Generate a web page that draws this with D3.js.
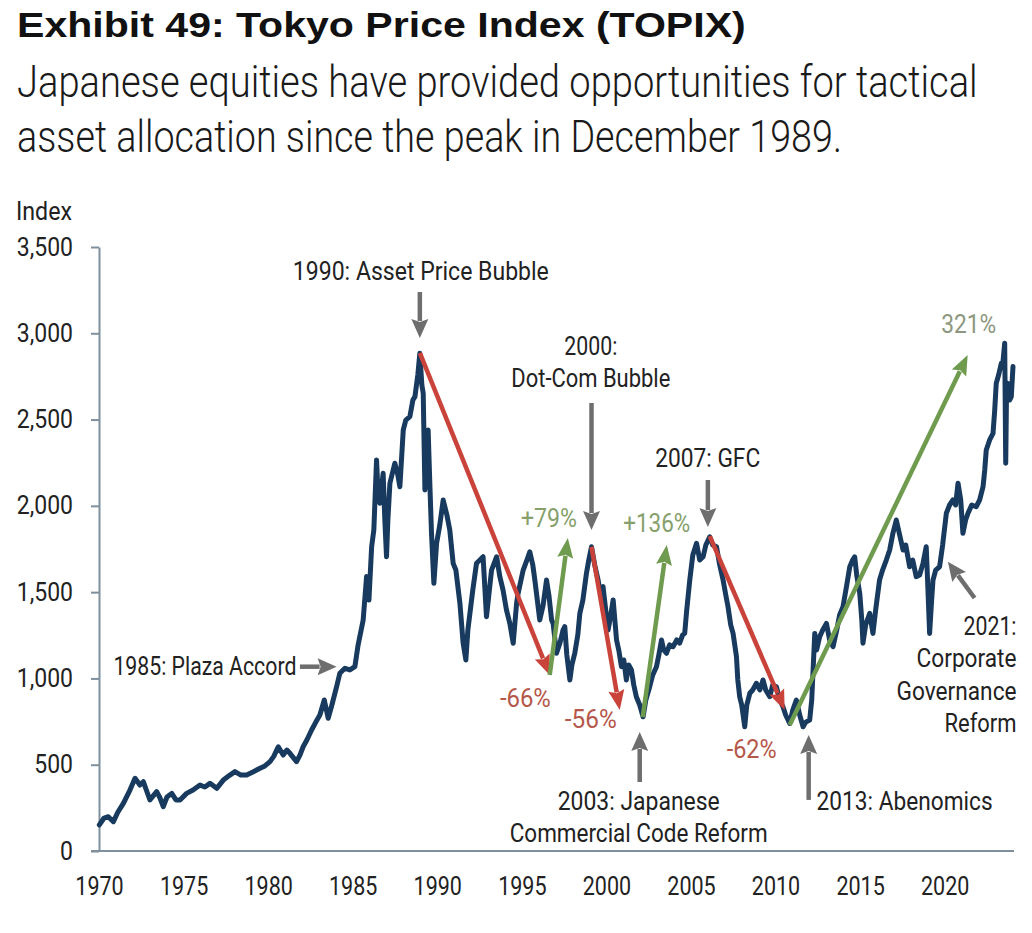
<!DOCTYPE html>
<html><head><meta charset="utf-8">
<script src="https://cdn.jsdelivr.net/npm/d3@7"></script>
<style>body{margin:0;background:#fff}svg{display:block}</style>
</head><body>
<svg id="c" width="1032" height="933"></svg>
<script>
// ---- data ----
const dates = [1970.02,1970.30,1970.55,1970.85,1971.12,1971.44,1971.83,1972.13,1972.42,1972.62,1972.84,1973.01,1973.41,1973.61,1973.80,1974.02,1974.30,1974.55,1974.79,1975.18,1975.56,1975.97,1976.26,1976.56,1976.96,1977.35,1977.74,1978.04,1978.39,1978.73,1979.10,1979.52,1979.81,1980.11,1980.34,1980.60,1980.89,1981.11,1981.29,1981.68,1981.88,1982.07,1982.29,1982.57,1982.82,1983.06,1983.32,1983.55,1983.77,1984.05,1984.24,1984.54,1984.83,1985.13,1985.32,1985.62,1985.82,1985.96,1986.12,1986.25,1986.41,1986.49,1986.61,1986.80,1986.90,1987.00,1987.08,1987.20,1987.49,1987.67,1987.79,1987.99,1988.14,1988.38,1988.56,1988.68,1988.85,1988.97,1989.09,1989.17,1989.27,1989.46,1989.56,1989.66,1989.80,1989.96,1990.15,1990.35,1990.57,1990.74,1990.94,1991.10,1991.34,1991.53,1991.69,1991.81,1991.93,1992.10,1992.32,1992.52,1992.71,1992.91,1993.21,1993.51,1993.70,1993.89,1994.09,1994.29,1994.49,1994.69,1994.78,1995.08,1995.30,1995.47,1995.65,1995.77,1996.06,1996.26,1996.46,1996.60,1996.76,1996.85,1997.05,1997.25,1997.44,1997.54,1997.66,1997.84,1997.96,1998.13,1998.31,1998.43,1998.61,1998.82,1998.96,1999.12,1999.31,1999.51,1999.61,1999.80,1999.96,2000.10,2000.26,2000.40,2000.60,2000.73,2000.89,2001.03,2001.18,2001.32,2001.48,2001.62,2001.77,2001.97,2002.17,2002.33,2002.56,2002.74,2002.96,2003.10,2003.26,2003.39,2003.55,2003.74,2003.94,2004.16,2004.33,2004.51,2004.63,2004.75,2004.93,2005.11,2005.33,2005.52,2005.72,2005.88,2006.11,2006.29,2006.51,2006.70,2006.90,2007.06,2007.19,2007.35,2007.49,2007.69,2007.77,2007.88,2008.00,2008.18,2008.30,2008.48,2008.65,2008.87,2009.07,2009.26,2009.42,2009.66,2009.83,2010.05,2010.25,2010.44,2010.60,2010.84,2011.02,2011.23,2011.43,2011.63,2011.79,2012.02,2012.14,2012.32,2012.43,2012.61,2012.79,2013.01,2013.20,2013.40,2013.62,2013.79,2013.99,2014.21,2014.39,2014.56,2014.68,2014.80,2014.98,2015.10,2015.17,2015.33,2015.57,2015.76,2015.92,2016.15,2016.33,2016.55,2016.75,2016.94,2017.14,2017.34,2017.54,2017.70,2017.93,2018.11,2018.32,2018.52,2018.72,2018.91,2018.99,2019.11,2019.23,2019.31,2019.47,2019.70,2019.88,2020.10,2020.29,2020.49,2020.65,2020.79,2020.95,2021.08,2021.24,2021.38,2021.60,2021.87,2022.07,2022.27,2022.37,2022.46,2022.66,2022.86,2022.96,2023.05,2023.19,2023.35,2023.43,2023.55,2023.61,2023.66,2023.74,2023.84,2023.94,2024.04];
const topix = [151,191,199,170,226,276,353,421,382,402,342,296,344,307,257,313,334,296,296,334,353,382,371,392,363,411,440,460,440,440,458,479,493,518,550,604,556,585,566,518,556,604,643,701,747,788,875,769,846,952,1030,1059,1049,1068,1194,1339,1590,1454,1763,1860,2266,2092,2015,2189,1918,1705,1918,2131,2247,2179,2111,2440,2497,2517,2613,2633,2758,2884,2700,2652,2092,2440,2131,1841,1551,1783,1889,2034,1947,1860,1667,1628,1435,1204,1107,1281,1377,1512,1667,1686,1705,1358,1628,1705,1590,1512,1397,1319,1204,1435,1493,1628,1686,1734,1657,1570,1339,1425,1570,1483,1339,1319,1146,1204,1281,1300,1136,991,1078,1146,1252,1377,1454,1609,1686,1763,1657,1570,1512,1532,1397,1281,1368,1455,1223,1165,1068,1107,991,1078,1049,962,894,846,778,875,952,1020,1068,1136,1223,1165,1146,1194,1184,1223,1204,1252,1261,1397,1570,1715,1783,1686,1705,1773,1821,1773,1763,1657,1570,1483,1416,1310,1261,1126,991,894,846,720,846,914,933,972,933,991,933,894,962,952,875,836,788,740,817,875,788,720,747,759,875,1261,1165,1242,1281,1319,1223,1184,1281,1368,1416,1541,1647,1686,1705,1599,1493,1339,1204,1310,1377,1261,1397,1570,1628,1686,1744,1841,1918,1831,1744,1773,1647,1686,1590,1599,1667,1763,1570,1261,1454,1570,1628,1647,1773,1957,2005,2034,2005,2131,2034,1841,1918,1957,2005,1995,2034,2111,2208,2324,2382,2420,2555,2710,2758,2826,2816,2942,2247,2671,2710,2613,2633,2807];
const yTicks = [0,500,1000,1500,2000,2500,3000,3500];
const xTicks = [1970,1975,1980,1985,1990,1995,2000,2005,2010,2015,2020];
const xDomain = [1970, 2024.1];
const yDomain = [0, 3500];

// percentage moves: [fromDate, fromValue, toDate, toValue]
const declines = [[1988.97,2886,1996.65,1020],[1999.12,1763,2000.79,817],[2006.11,1825,2010.54,817]];
const rallies  = [[1996.65,1020,1997.72,1814],[2002.15,776,2003.57,1773],[2010.84,730,2021.36,2874]];
const declineLabels = [["-66%",1995.21,834],["-56%",1999.08,713],["-62%",2008.59,539]];
const rallyLabels   = [["+79%",1996.60,1877],["+136%",2002.98,1849],["321%",2021.42,3002]];
// event callouts: arrows [fromDate, fromValue, toDate, toValue]
const eventArrows = [[1988.97,3239,1988.97,2973],[1999.12,2596,1999.12,1860],[2006.0,2150,2006.0,1877],[2001.97,400,2001.97,690],[2011.96,296,2011.96,672],[1981.88,1068,1984.05,1068],[2021.77,1466,2020.19,1676]];
// event labels: [text, date, value, anchor, width]
const eventLabels = [
  ["1990: Asset Price Bubble",1989.03,3309,"middle",256],
  ["2000:",1999.08,2874,"middle",53],
  ["Dot-Com Bubble",1999.08,2689,"middle",159],
  ["2007: GFC",2005.99,2225,"middle",105],
  ["2003: Japanese",2001.91,238,"middle",162],
  ["Commercial Code Reform",2001.91,52,"middle",258],
  ["2013: Abenomics",2012.43,238,"start",176],
  ["2021:",2024.25,1252,"end",53],
  ["Corporate",2024.25,1066,"end",100],
  ["Governance",2024.25,875,"end",120],
  ["Reform",2024.25,690,"end",72],
  ["1985: Plaza Accord",1970.85,1020,"start",183]
];

// ---- drawing ----
const svg = d3.select("#c");
svg.append("rect").attr("width",1032).attr("height",933).attr("fill","#fff");
const FONT = "Roboto, 'Noto Sans', sans-serif";

const x = d3.scaleLinear().domain(xDomain).range([99, 1014]);
const y = d3.scaleLinear().domain(yDomain).range([851, 247]);

// text squeezed horizontally to a target width with a transform
function squeezed(str, px, py, w, attrs){
  const t = svg.append("text").attr("x",0).attr("y",0);
  Object.entries(attrs).forEach(([k,v])=>t.attr(k,v));
  t.text(str);
  const nat = t.node().getComputedTextLength();
  t.attr("transform",`translate(${px},${py}) scale(${w/nat},1)`);
  return t;
}
squeezed("Exhibit 49: Tokyo Price Index (TOPIX)",17,37,729,
  {"font-family":"'Liberation Sans', Arial, sans-serif","font-weight":700,"font-size":36,"fill":"#111"});
[["Japanese equities have provided opportunities for tactical",97,961],
 ["asset allocation since the peak in December 1989.",152,825]].forEach(([t,yy,w])=>{
  squeezed(t,17,yy,w,{"font-family":FONT,"font-weight":300,"font-size":44,"fill":"#1a1a1a"});
});
squeezed("Index",16,220,56,{"font-family":FONT,"font-size":25,"fill":"#222"});

const AXC = "#7f8f9c";
const gy = svg.append("g").attr("transform","translate(99,0)")
  .call(d3.axisLeft(y).tickValues(yTicks).tickFormat(d3.format(",")).tickSize(8).tickSizeOuter(0).tickPadding(18));
const gx = svg.append("g").attr("transform","translate(0,851)")
  .call(d3.axisBottom(x).tickValues(xTicks).tickFormat(d3.format("d")).tickSize(0).tickSizeOuter(0).tickPadding(26));
[gx,gy].forEach(g=>{
  g.select(".domain").attr("stroke",AXC).attr("stroke-width",2);
  g.selectAll(".tick line").attr("stroke",AXC).attr("stroke-width",2);
  g.selectAll(".tick text").attr("font-family",FONT).attr("font-size",25).attr("fill","#222");
});
gx.select(".domain").attr("d","M91,0H1014");
function condense(sel, f){
  sel.each(function(){ const w=this.getComputedTextLength(); d3.select(this).attr("textLength",w*f).attr("lengthAdjust","spacingAndGlyphs"); });
}
condense(gy.selectAll(".tick text"),0.92);
condense(gx.selectAll(".tick text"),0.86);

// series line
const pts = dates.map((d,i)=>[d,topix[i]]);
svg.append("path").datum(pts)
  .attr("d", d3.line().x(d=>x(d[0])).y(d=>y(d[1])))
  .attr("fill","none").attr("stroke","#173a5e").attr("stroke-width",5)
  .attr("stroke-linejoin","round").attr("stroke-linecap","round");

function arrow(a, color, w, hl, hw){
  const x1=x(a[0]), y1=y(a[1]), x2=x(a[2]), y2=y(a[3]);
  const dx=x2-x1, dy=y2-y1, L=Math.hypot(dx,dy), ux=dx/L, uy=dy/L;
  const bx=x2-ux*hl, by=y2-uy*hl;
  svg.append("line").attr("x1",x1).attr("y1",y1).attr("x2",bx+ux*2).attr("y2",by+uy*2)
    .attr("stroke",color).attr("stroke-width",w);
  svg.append("polygon").attr("fill",color)
    .attr("points",[[x2,y2],[bx-uy*hw,by+ux*hw],[bx+ux*3,by+uy*3],[bx+uy*hw,by-ux*hw]].map(p=>p.join(",")).join(" "));
}
eventArrows.forEach(a=>arrow(a,"#6e6e6e",4.5,19,8.5));
declines.forEach(a=>arrow(a,"#c9433b",4.5,20,8));
rallies.forEach(a=>arrow(a,"#6f9b4f",4.5,20,8));

function label(t, d, v, anchor, w, color){
  svg.append("text").attr("x",x(d)).attr("y",y(v)).attr("text-anchor",anchor)
    .attr("font-family",FONT).attr("font-size",25).attr("fill",color)
    .attr("textLength",w).attr("lengthAdjust","spacingAndGlyphs").text(t);
}
eventLabels.forEach(l=>label(l[0],l[1],l[2],l[3],l[4],"#222"));
const pctW = {"-66%":51,"-56%":52,"-62%":50,"+79%":56,"+136%":67,"321%":55};
declineLabels.forEach(l=>label(l[0],l[1],l[2],"middle",pctW[l[0]],"#b5584a"));
rallyLabels.forEach(l=>label(l[0],l[1],l[2],"middle",pctW[l[0]],l[0]==="321%"?"#8d977f":"#86a06c"));
</script>
</body></html>
